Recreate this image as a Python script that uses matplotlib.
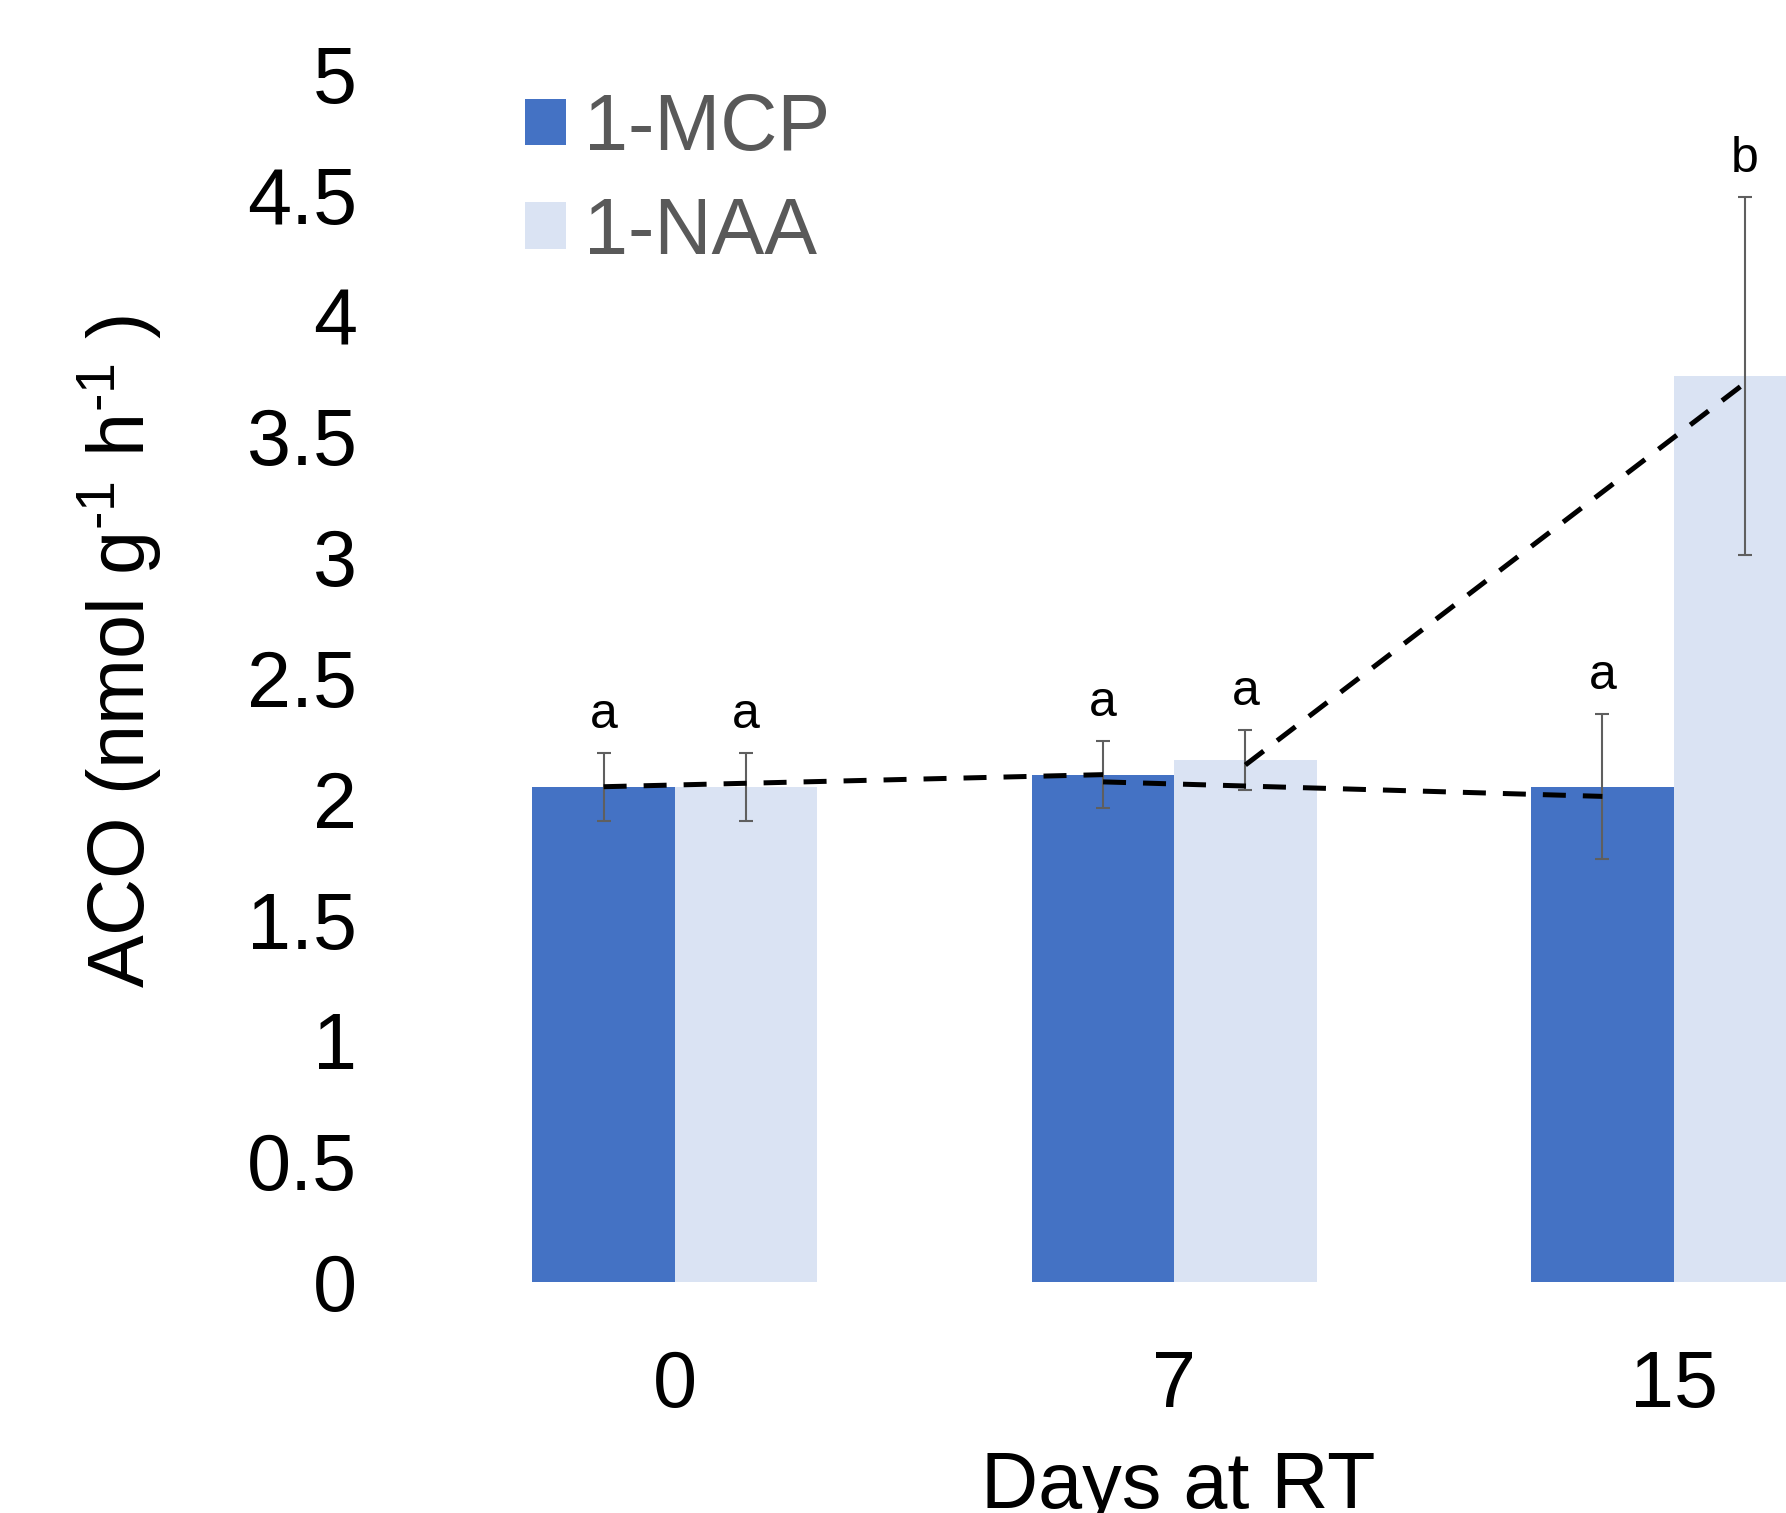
import matplotlib
matplotlib.use("Agg")
import matplotlib.pyplot as plt
import numpy as np

plt.rcParams['font.family'] = ['Liberation Sans', 'DejaVu Sans']
plt.rcParams['mathtext.fontset'] = 'custom'
plt.rcParams['mathtext.rm'] = 'Liberation Sans'
plt.rcParams['mathtext.default'] = 'regular'

# ---- data ----
days = ['0', '7', '15']
series_names = ['1-MCP', '1-NAA']
mcp_mean = [2.05, 2.10, 2.05]
mcp_err = [0.14, 0.14, 0.30]
naa_mean = [2.05, 2.16, 3.75]
naa_err = [0.14, 0.125, 0.74]
mcp_letters = ['a', 'a', 'a']
naa_letters = ['a', 'a', 'b']
# dashed trend segments
mcp_trend_early_days = [0, 1]
mcp_trend_early = [2.05, 2.10]
mcp_trend_late_days = [1, 2]
mcp_trend_late = [2.07, 2.01]
naa_trend_days = [1, 2]
naa_trend = [2.14, 3.72]
yticks = [0, 0.5, 1, 1.5, 2, 2.5, 3, 3.5, 4, 4.5, 5]
ytick_labels = ['0', '0.5', '1', '1.5', '2', '2.5', '3', '3.5', '4', '4.5', '5']

W, H = 1786, 1513
spacing = 499.4
x0 = 674.8
left = x0 - spacing / 2
fig = plt.figure(figsize=(W / 100, H / 100), dpi=100)
ax = fig.add_axes([left / W, 1 - 1282 / H, 1 - left / W, (1282 - 74) / H])

x = np.arange(len(days))
bw = 0.285
c_mcp = '#4472C4'
c_naa = '#DAE3F3'
err_kw = dict(ecolor='#5f5f5f', elinewidth=1.5, capsize=4.7, capthick=1.5)

b1 = ax.bar(x - bw / 2, mcp_mean, bw, color=c_mcp, yerr=mcp_err, error_kw=err_kw,
            label=series_names[0], zorder=2)
b2 = ax.bar(x + bw / 2, naa_mean, bw, color=c_naa, yerr=naa_err, error_kw=err_kw,
            label=series_names[1], zorder=2)

dash = dict(color='black', lw=3.6, dashes=(4.6, 3.4), zorder=4, solid_capstyle='butt')
ax.plot(np.array(mcp_trend_early_days) - bw / 2, mcp_trend_early, **dash)
ax.plot(np.array(mcp_trend_late_days) - bw / 2, mcp_trend_late, **dash)
ax.plot(np.array(naa_trend_days) + bw / 2, naa_trend, **dash)

for xi, m, e, t in zip(x - bw / 2, mcp_mean, mcp_err, mcp_letters):
    ax.annotate(t, (xi, m + e), xytext=(0, 18), textcoords='offset points',
                ha='center', va='baseline', fontsize=36, color='black')
for xi, m, e, t in zip(x + bw / 2, naa_mean, naa_err, naa_letters):
    ax.annotate(t, (xi, m + e), xytext=(0, 18), textcoords='offset points',
                ha='center', va='baseline', fontsize=36, color='black', annotation_clip=False)

ax.set_xlim(-0.5, (W - x0) / spacing)
ax.set_ylim(0, 5)
ax.set_xticks(x)
ax.set_xticklabels(days)
ax.set_yticks(yticks)
ax.set_yticklabels(ytick_labels)
ax.tick_params(axis='both', length=0, labelsize=57, colors='black')
ax.tick_params(axis='y', pad=49)
ax.tick_params(axis='x', pad=48)
for s in ax.spines.values():
    s.set_visible(False)

fig.text(1178 / W, 1 - 1508 / H, 'Days at RT', ha='center', va='baseline', fontsize=57)
fig.text(120 / W, 1 - 652 / H, r'ACO (nmol g$^{\text{-}1}$ h$^{\text{-}1}$ )', rotation=90,
         ha='center', va='center', fontsize=57)

leg = ax.legend(handles=[b1, b2], loc='upper left',
                bbox_to_anchor=(525 / W, 1 - 92 / H), bbox_transform=fig.transFigure,
                frameon=False, fontsize=57, handlelength=0.52, handleheight=0.52,
                handletextpad=0.22, labelspacing=0.36, borderpad=0, borderaxespad=0)
for t in leg.get_texts():
    t.set_color('#595959')

fig.savefig('out.png', dpi=100)
